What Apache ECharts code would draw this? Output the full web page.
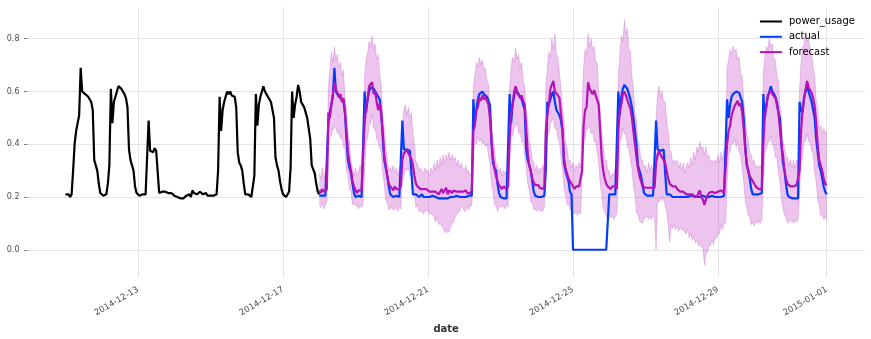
<!DOCTYPE html>
<html>
<head>
<meta charset="utf-8">
<script src="https://cdn.jsdelivr.net/npm/echarts@6/dist/echarts.min.js"></script>
<style>
  html, body { margin: 0; padding: 0; background: #ffffff; }
  #chart { width: 871px; height: 339px; }
</style>
</head>
<body>
<div id="chart"></div>
<script>
// Hourly power usage history, followed by the held-out actuals and the
// probabilistic forecast (median plus a lower/upper quantile band).
const HOUR = 3600 * 1000;
const historyStart = Date.UTC(2014, 11, 11);
const forecastStart = Date.UTC(2014, 11, 18);

const xTicks = [
  Date.UTC(2014, 11, 13), Date.UTC(2014, 11, 17), Date.UTC(2014, 11, 21),
  Date.UTC(2014, 11, 25), Date.UTC(2014, 11, 29), Date.UTC(2015, 0, 1)
];
const yTicks = [0.0, 0.2, 0.4, 0.6, 0.8];

// 2014-12-11 00:00 .. 2014-12-18 00:00, one value per hour
const powerUsage = [
  0.21,0.205,0.21,0.2,0.21,0.3,0.4,0.45,0.48,0.51,0.69,0.6,0.6,0.59,0.585,0.58,0.575,0.56,0.53,0.34,0.32,0.3,0.25,0.215,
  0.21,0.205,0.21,0.21,0.25,0.32,0.61,0.48,0.56,0.58,0.6,0.62,0.625,0.61,0.6,0.59,0.575,0.54,0.38,0.34,0.32,0.3,0.24,0.215,
  0.21,0.205,0.21,0.21,0.205,0.21,0.215,0.49,0.375,0.38,0.37,0.385,0.375,0.37,0.215,0.21,0.22,0.215,0.22,0.22,0.215,0.21,0.215,0.21,
  0.205,0.2,0.2,0.2,0.195,0.2,0.195,0.2,0.205,0.2,0.21,0.2,0.225,0.215,0.21,0.21,0.215,0.22,0.215,0.21,0.21,0.215,0.205,0.21,
  0.205,0.2,0.205,0.205,0.21,0.3,0.58,0.45,0.53,0.56,0.58,0.6,0.59,0.6,0.585,0.59,0.58,0.54,0.37,0.33,0.32,0.3,0.25,0.21,
  0.205,0.21,0.205,0.2,0.205,0.28,0.59,0.47,0.55,0.58,0.6,0.62,0.6,0.59,0.58,0.575,0.56,0.53,0.5,0.35,0.32,0.3,0.26,0.23,
  0.21,0.205,0.2,0.205,0.22,0.31,0.6,0.5,0.55,0.58,0.625,0.6,0.56,0.55,0.54,0.52,0.5,0.46,0.42,0.32,0.305,0.29,0.25,0.22,
  0.21
];

// 2014-12-18 00:00 .. 2015-01-01 00:00, one value per hour
const actual = [
  0.205,0.2,0.205,0.2,0.205,0.21,0.48,0.52,0.55,0.58,0.69,0.6,0.59,0.58,0.575,0.57,0.56,0.52,0.42,0.34,0.31,0.29,0.25,0.215,
  0.2,0.2,0.205,0.2,0.2,0.205,0.6,0.52,0.57,0.6,0.615,0.62,0.61,0.6,0.6,0.58,0.57,0.52,0.43,0.34,0.31,0.28,0.24,0.21,
  0.205,0.2,0.2,0.205,0.2,0.2,0.205,0.49,0.38,0.375,0.38,0.38,0.375,0.38,0.21,0.205,0.21,0.205,0.2,0.205,0.21,0.2,0.205,0.2,
  0.205,0.2,0.2,0.205,0.2,0.2,0.2,0.195,0.2,0.195,0.19,0.195,0.2,0.195,0.2,0.2,0.205,0.2,0.2,0.205,0.2,0.2,0.205,0.2,
  0.205,0.2,0.2,0.205,0.2,0.205,0.57,0.48,0.53,0.57,0.59,0.595,0.6,0.59,0.59,0.58,0.58,0.55,0.41,0.33,0.31,0.3,0.25,0.215,
  0.2,0.195,0.195,0.2,0.195,0.2,0.59,0.48,0.55,0.58,0.615,0.6,0.59,0.58,0.57,0.55,0.53,0.38,0.34,0.32,0.3,0.26,0.22,0.205,
  0.2,0.2,0.195,0.2,0.2,0.205,0.3,0.56,0.55,0.57,0.59,0.6,0.56,0.53,0.52,0.51,0.49,0.45,0.33,0.3,0.28,0.26,0.22,0.21,
  0,0,0,0,0,0,0,0,0,0,0,0,0,0,0,0,0,0,0,0,0,0,0,0,
  0.21,0.205,0.21,0.205,0.21,0.21,0.6,0.51,0.58,0.61,0.625,0.62,0.61,0.59,0.57,0.54,0.5,0.45,0.4,0.32,0.3,0.28,0.25,0.215,
  0.21,0.205,0.21,0.205,0.21,0.205,0.21,0.49,0.38,0.38,0.375,0.38,0.38,0.375,0.21,0.205,0.21,0.21,0.2,0.205,0.2,0.205,0.2,0.2,
  0.2,0.205,0.2,0.205,0.2,0.2,0.205,0.2,0.205,0.2,0.2,0.195,0.2,0.2,0.205,0.2,0.2,0.205,0.2,0.2,0.205,0.2,0.2,0.205,
  0.2,0.205,0.2,0.2,0.205,0.2,0.57,0.5,0.55,0.58,0.59,0.59,0.6,0.6,0.595,0.59,0.56,0.5,0.4,0.32,0.3,0.27,0.23,0.21,
  0.21,0.21,0.215,0.21,0.21,0.215,0.59,0.5,0.55,0.58,0.6,0.62,0.6,0.59,0.58,0.56,0.52,0.5,0.4,0.33,0.3,0.25,0.21,0.2,
  0.2,0.195,0.195,0.195,0.2,0.195,0.56,0.53,0.52,0.58,0.6,0.62,0.6,0.58,0.56,0.53,0.5,0.42,0.37,0.32,0.3,0.27,0.24,0.22,
  0.21
];

const forecast = [
  0.225,0.215,0.23,0.22,0.225,0.23,0.52,0.5,0.55,0.59,0.635,0.61,0.61,0.58,0.59,0.56,0.575,0.52,0.45,0.37,0.33,0.3,0.26,0.24,
  0.225,0.215,0.225,0.22,0.225,0.22,0.48,0.54,0.57,0.62,0.62,0.635,0.59,0.6,0.56,0.53,0.555,0.51,0.45,0.36,0.32,0.28,0.25,0.24,
  0.235,0.225,0.24,0.23,0.235,0.23,0.24,0.34,0.365,0.36,0.38,0.365,0.365,0.345,0.32,0.28,0.25,0.24,0.235,0.23,0.235,0.23,0.225,0.23,
  0.225,0.22,0.225,0.22,0.215,0.22,0.225,0.21,0.22,0.23,0.215,0.22,0.235,0.21,0.225,0.22,0.215,0.225,0.22,0.22,0.225,0.22,0.215,0.22,
  0.22,0.225,0.215,0.22,0.215,0.225,0.45,0.47,0.53,0.54,0.575,0.565,0.585,0.57,0.58,0.565,0.55,0.5,0.42,0.35,0.31,0.28,0.26,0.245,
  0.24,0.23,0.24,0.235,0.23,0.24,0.42,0.51,0.55,0.6,0.62,0.595,0.6,0.575,0.585,0.565,0.55,0.46,0.37,0.32,0.3,0.27,0.255,0.245,
  0.24,0.245,0.235,0.24,0.23,0.24,0.45,0.51,0.55,0.61,0.625,0.64,0.6,0.605,0.585,0.575,0.52,0.46,0.35,0.31,0.29,0.27,0.26,0.255,
  0.24,0.23,0.24,0.235,0.24,0.235,0.3,0.47,0.53,0.54,0.635,0.61,0.605,0.59,0.605,0.585,0.585,0.55,0.45,0.35,0.3,0.27,0.25,0.24,
  0.235,0.23,0.24,0.235,0.24,0.23,0.45,0.53,0.55,0.59,0.6,0.585,0.585,0.55,0.535,0.5,0.45,0.4,0.35,0.31,0.28,0.26,0.24,0.235,
  0.235,0.24,0.235,0.23,0.235,0.24,0.235,0.33,0.36,0.375,0.36,0.35,0.35,0.33,0.3,0.27,0.25,0.245,0.24,0.235,0.24,0.23,0.225,0.22,
  0.225,0.22,0.215,0.21,0.215,0.21,0.205,0.21,0.2,0.205,0.2,0.215,0.225,0.2,0.19,0.17,0.19,0.205,0.215,0.21,0.22,0.225,0.215,0.22,
  0.22,0.215,0.225,0.22,0.215,0.22,0.4,0.45,0.47,0.51,0.515,0.545,0.545,0.565,0.545,0.555,0.52,0.46,0.38,0.33,0.3,0.28,0.27,0.26,
  0.25,0.24,0.235,0.23,0.235,0.23,0.4,0.51,0.54,0.585,0.585,0.605,0.59,0.595,0.575,0.55,0.52,0.46,0.4,0.36,0.3,0.27,0.25,0.245,
  0.24,0.245,0.24,0.24,0.245,0.24,0.3,0.45,0.53,0.57,0.61,0.64,0.615,0.605,0.595,0.575,0.545,0.48,0.4,0.34,0.32,0.3,0.27,0.25,
  0.245
];

const forecastLow = [
  0.17,0.16,0.18,0.155,0.17,0.18,0.35,0.43,0.43,0.46,0.46,0.47,0.44,0.45,0.42,0.43,0.39,0.38,0.3,0.28,0.23,0.22,0.17,0.18,
  0.165,0.17,0.155,0.17,0.16,0.175,0.29,0.41,0.42,0.47,0.48,0.51,0.46,0.46,0.42,0.41,0.39,0.37,0.29,0.25,0.19,0.18,0.15,0.155,
  0.16,0.15,0.155,0.16,0.145,0.16,0.155,0.27,0.28,0.31,0.3,0.31,0.28,0.29,0.23,0.21,0.16,0.17,0.145,0.145,0.15,0.135,0.15,0.145,
  0.15,0.135,0.14,0.13,0.125,0.105,0.125,0.095,0.1,0.09,0.085,0.065,0.075,0.064,0.07,0.085,0.1,0.105,0.125,0.135,0.14,0.145,0.165,0.16,
  0.145,0.15,0.165,0.15,0.17,0.165,0.35,0.41,0.4,0.43,0.41,0.42,0.4,0.41,0.39,0.4,0.36,0.33,0.25,0.22,0.17,0.17,0.145,0.16,
  0.165,0.16,0.17,0.155,0.175,0.16,0.33,0.43,0.43,0.46,0.47,0.48,0.44,0.45,0.41,0.41,0.36,0.31,0.25,0.23,0.18,0.18,0.15,0.155,
  0.145,0.16,0.145,0.15,0.145,0.16,0.33,0.43,0.44,0.48,0.49,0.5,0.46,0.46,0.42,0.41,0.35,0.31,0.24,0.21,0.17,0.175,0.155,0.15,
  0.145,0.135,0.145,0.13,0.145,0.135,0.27,0.41,0.42,0.46,0.46,0.47,0.44,0.45,0.41,0.41,0.37,0.33,0.25,0.21,0.155,0.145,0.125,0.13,
  0.135,0.12,0.13,0.115,0.126,0.135,0.27,0.41,0.42,0.46,0.44,0.44,0.39,0.38,0.34,0.31,0.24,0.21,0.14,0.135,0.11,0.105,0.1,0.12,
  0.12,0.13,0.115,0.128,0.115,0.13,0.12,0.0,0.19,0.18,0.2,0.185,0.2,0.17,0.145,0.095,0.03,0.095,0.08,0.095,0.075,0.09,0.07,0.085,
  0.075,0.08,0.065,0.06,0.075,0.045,0.06,0.035,0.05,0.025,0.04,0.015,0.02,0.01,0.005,-0.058,-0.015,-0.011,0.015,0.015,0.035,0.02,0.045,0.045,
  0.065,0.06,0.095,0.075,0.105,0.1,0.24,0.36,0.37,0.41,0.4,0.42,0.39,0.41,0.37,0.36,0.31,0.26,0.19,0.16,0.13,0.125,0.095,0.105,
  0.09,0.105,0.1,0.11,0.1,0.115,0.25,0.37,0.38,0.41,0.41,0.43,0.4,0.39,0.35,0.35,0.29,0.26,0.19,0.16,0.13,0.125,0.1,0.11,
  0.105,0.115,0.1,0.11,0.105,0.115,0.21,0.33,0.35,0.41,0.41,0.44,0.41,0.41,0.37,0.37,0.29,0.26,0.19,0.17,0.13,0.135,0.115,0.125,
  0.11
];

const forecastHigh = [
  0.29,0.27,0.31,0.27,0.3,0.31,0.62,0.68,0.75,0.71,0.77,0.72,0.74,0.69,0.71,0.66,0.68,0.58,0.53,0.44,0.41,0.33,0.31,0.28,
  0.31,0.28,0.3,0.32,0.29,0.31,0.66,0.72,0.75,0.79,0.77,0.81,0.76,0.78,0.72,0.74,0.67,0.62,0.52,0.46,0.39,0.35,0.3,0.31,
  0.3,0.32,0.29,0.31,0.28,0.31,0.32,0.47,0.53,0.55,0.51,0.54,0.5,0.52,0.44,0.4,0.33,0.33,0.3,0.31,0.3,0.29,0.31,0.3,
  0.3,0.28,0.31,0.29,0.33,0.3,0.34,0.31,0.35,0.32,0.36,0.33,0.36,0.34,0.37,0.34,0.36,0.34,0.35,0.32,0.34,0.31,0.33,0.31,
  0.3,0.32,0.29,0.3,0.28,0.3,0.62,0.66,0.71,0.69,0.73,0.7,0.72,0.68,0.69,0.64,0.63,0.54,0.49,0.41,0.39,0.33,0.32,0.29,
  0.31,0.28,0.3,0.29,0.3,0.31,0.61,0.69,0.73,0.71,0.765,0.72,0.74,0.69,0.71,0.64,0.62,0.53,0.49,0.41,0.39,0.34,0.33,0.3,
  0.32,0.29,0.31,0.3,0.32,0.3,0.62,0.69,0.75,0.73,0.8,0.76,0.82,0.74,0.73,0.67,0.62,0.54,0.49,0.41,0.39,0.34,0.34,0.31,
  0.33,0.3,0.32,0.31,0.33,0.31,0.52,0.69,0.76,0.74,0.82,0.77,0.8,0.76,0.77,0.71,0.71,0.6,0.53,0.43,0.4,0.34,0.34,0.3,
  0.3,0.27,0.29,0.28,0.31,0.29,0.66,0.74,0.81,0.79,0.87,0.82,0.84,0.76,0.75,0.66,0.61,0.52,0.49,0.41,0.39,0.34,0.34,0.31,
  0.32,0.29,0.33,0.3,0.32,0.29,0.32,0.5,0.59,0.62,0.58,0.6,0.56,0.56,0.49,0.45,0.38,0.37,0.33,0.34,0.33,0.34,0.31,0.33,
  0.3,0.33,0.29,0.32,0.33,0.31,0.35,0.32,0.37,0.34,0.39,0.37,0.41,0.38,0.39,0.36,0.39,0.35,0.36,0.33,0.34,0.33,0.34,0.33,
  0.36,0.33,0.37,0.34,0.38,0.35,0.69,0.72,0.76,0.74,0.77,0.75,0.76,0.72,0.73,0.67,0.66,0.57,0.51,0.44,0.42,0.37,0.36,0.33,
  0.34,0.31,0.32,0.31,0.32,0.31,0.67,0.73,0.77,0.76,0.8,0.77,0.78,0.72,0.72,0.66,0.64,0.55,0.49,0.41,0.39,0.35,0.35,0.32,
  0.34,0.31,0.34,0.31,0.34,0.32,0.61,0.71,0.77,0.78,0.82,0.79,0.8,0.75,0.75,0.69,0.66,0.57,0.53,0.46,0.47,0.44,0.46,0.44,
  0.45
];

const COLORS = {
  history: '#000000',
  actual: '#003DFD',
  forecast: '#b512b8',
  band: 'rgba(181, 18, 184, 0.25)',
  bandEdge: 'rgba(181, 18, 184, 0.2)',
  grid: '#e4e4e4',
  tickText: '#4d4d4d'
};
const FONT = 'DejaVu Sans';

function hourly(start, values) {
  return values.map((v, i) => [start + i * HOUR, v]);
}
function pad2(n) { return (n < 10 ? '0' : '') + n; }
function dateLabel(ms) {
  const d = new Date(ms);
  return d.getUTCFullYear() + '-' + pad2(d.getUTCMonth() + 1) + '-' + pad2(d.getUTCDate());
}

// Quantile band: one filled polygon between the upper and lower quantile
// curves, projected through the chart's own axes.
function renderBand(params, api) {
  const upper = forecastHigh.map((v, i) => api.coord([forecastStart + i * HOUR, v]));
  const lower = forecastLow.map((v, i) => api.coord([forecastStart + i * HOUR, v]));
  const outline = upper.concat(lower.slice().reverse());
  return {
    type: 'group',
    children: [
      { type: 'polygon', shape: { points: outline }, style: { fill: COLORS.band, stroke: null } },
      { type: 'polyline', shape: { points: upper }, style: { fill: null, stroke: COLORS.bandEdge, lineWidth: 1 } },
      { type: 'polyline', shape: { points: lower }, style: { fill: null, stroke: COLORS.bandEdge, lineWidth: 1 } }
    ]
  };
}

const lineBase = {
  type: 'line',
  showSymbol: false,
  symbol: 'none',
  silent: true,
  animation: false,
  emphasis: { disabled: true }
};

const chart = echarts.init(document.getElementById('chart'), null, { renderer: 'canvas' });
chart.setOption({
  animation: false,
  backgroundColor: '#ffffff',
  grid: { left: 27.5, right: 6.2, top: 7.5, bottom: 59.5, containLabel: false },
  legend: {
    data: ['power_usage', 'actual', 'forecast'],
    orient: 'vertical',
    right: 16,
    top: 16.5,
    padding: 0,
    itemGap: 5.3,
    itemWidth: 22,
    itemHeight: 2,
    icon: 'rect',
    selectedMode: false,
    textStyle: { fontFamily: FONT, fontSize: 10, color: '#000000', padding: [0, 0, 0, 2] }
  },
  xAxis: {
    type: 'value',
    min: Date.UTC(2014, 11, 9, 22, 48),
    max: Date.UTC(2015, 0, 2, 1, 12),
    name: 'date',
    nameLocation: 'middle',
    nameGap: 43,
    nameTextStyle: { fontFamily: FONT, fontSize: 10, fontWeight: 'bold', color: '#333333' },
    axisLine: { show: false },
    axisTick: { show: false, customValues: xTicks },
    axisLabel: {
      customValues: xTicks,
      rotate: 30,
      margin: 12,
      fontFamily: FONT,
      fontSize: 8.5,
      color: COLORS.tickText,
      formatter: (v) => dateLabel(v)
    },
    splitLine: { show: true, lineStyle: { color: COLORS.grid, width: 1 } }
  },
  yAxis: {
    type: 'value',
    min: -0.1033,
    max: 0.9183,
    axisLine: { show: false },
    axisTick: { show: true, customValues: yTicks, length: 3.5, lineStyle: { color: '#666666', width: 0.8 } },
    axisLabel: {
      customValues: yTicks,
      margin: 8,
      fontFamily: FONT,
      fontSize: 8,
      color: COLORS.tickText,
      formatter: (v) => v.toFixed(1)
    },
    splitLine: { show: true, lineStyle: { color: COLORS.grid, width: 1 } }
  },
  series: [
    {
      type: 'custom',
      name: 'forecast band',
      silent: true,
      animation: false,
      z: 1,
      clip: true,
      data: [[forecastStart, forecast[0]]],
      renderItem: renderBand
    },
    Object.assign({}, lineBase, {
      name: 'power_usage',
      z: 2,
      color: COLORS.history,
      data: hourly(historyStart, powerUsage),
      lineStyle: { color: COLORS.history, width: 2.2 }
    }),
    Object.assign({}, lineBase, {
      name: 'actual',
      z: 3,
      color: COLORS.actual,
      data: hourly(forecastStart, actual),
      lineStyle: { color: COLORS.actual, width: 2.2 }
    }),
    Object.assign({}, lineBase, {
      name: 'forecast',
      z: 4,
      color: COLORS.forecast,
      data: hourly(forecastStart, forecast),
      lineStyle: { color: COLORS.forecast, width: 2.2 }
    })
  ]
});
</script>
</body>
</html>
